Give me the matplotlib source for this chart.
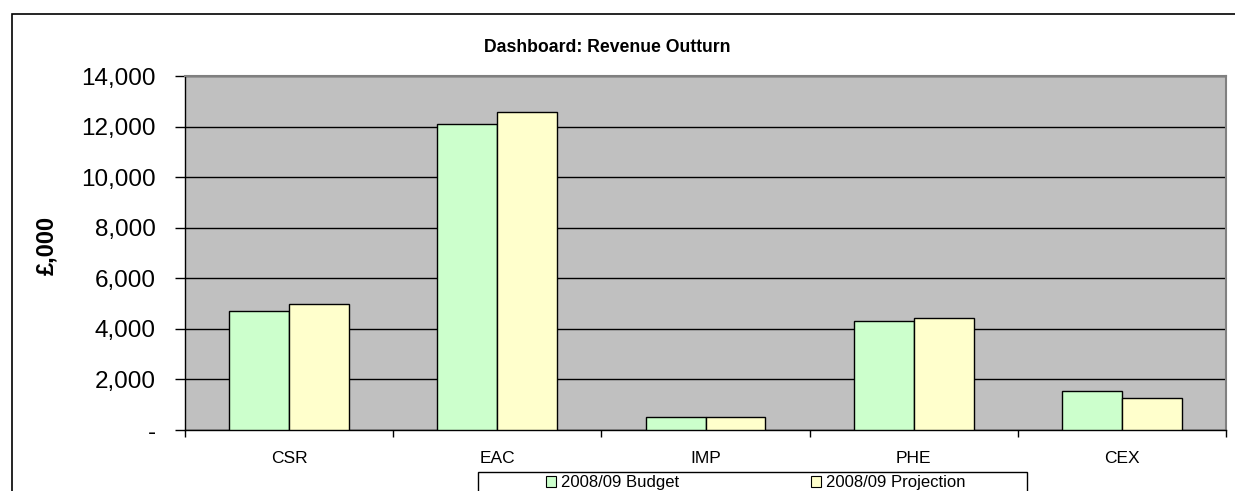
import numpy as np
import matplotlib
matplotlib.use("Agg")
import matplotlib.pyplot as plt
from matplotlib.patches import Patch, Rectangle
from matplotlib.ticker import FuncFormatter

plt.rcParams['font.family'] = ['Liberation Sans', 'DejaVu Sans']

# values (£,000)
categories = ['CSR', 'EAC', 'IMP', 'PHE', 'CEX']
budget = [4720, 12100, 510, 4320, 1540]
projection = [5000, 12560, 500, 4415, 1280]
series_names = ['2008/09 Budget', '2008/09 Projection']
colors = ['#CCFFCC', '#FFFFCC']

W, H = 1235, 491
fig = plt.figure(figsize=(W / 100, H / 100), dpi=100)

# outer chart border (runs off the right and bottom edge like the source)
fig.patches.append(Rectangle((12 / W, -0.2), 1.2, 1 - 14 / H + 0.2,
                             transform=fig.transFigure, fill=False,
                             edgecolor='black', linewidth=1.2))

ax = fig.add_axes([185 / W, 1 - 430 / H, (1226 - 185) / W, (430 - 76) / H])
ax.set_facecolor('#C0C0C0')

x = np.arange(len(categories))
bw = 0.288
ax.bar(x - bw / 2, budget, bw, color=colors[0], edgecolor='black', linewidth=1, zorder=3)
ax.bar(x + bw / 2, projection, bw, color=colors[1], edgecolor='black', linewidth=1, zorder=3)

ax.set_xlim(-0.5, len(categories) - 0.5)
ax.set_ylim(0, 14000)
ax.set_yticks(np.arange(0, 14001, 2000))
ax.yaxis.set_major_formatter(FuncFormatter(lambda v, p: '-' if v == 0 else f'{int(v):,}'))
ax.grid(axis='y', color='black', linewidth=1, zorder=1)
ax.set_axisbelow(True)

# category boundaries get the tick marks, names sit between them
ax.set_xticks(np.arange(-0.5, len(categories), 1))
ax.set_xticklabels([])
ax.set_xticks(x, minor=True)
ax.set_xticklabels(categories, minor=True, fontsize=12.5)
ax.tick_params(axis='x', which='major', direction='out', length=5, width=1, color='black')
ax.tick_params(axis='x', which='minor', length=0, pad=15)
ax.tick_params(axis='y', direction='out', length=7, width=1, labelsize=17.5, pad=14)

for side in ['top', 'right']:
    ax.spines[side].set_color('#808080')
    ax.spines[side].set_linewidth(1.5)
for side in ['left', 'bottom']:
    ax.spines[side].set_color('black')
    ax.spines[side].set_linewidth(1)

ax.set_ylabel('£,000', fontsize=17, fontweight='bold')
ax.yaxis.set_label_coords(-(185 - 58) / (1226 - 185), 0.52)

fig.text(607 / W, 1 - 47 / H, 'Dashboard: Revenue Outturn', ha='center', va='center',
         fontsize=12.7, fontweight='bold')

# legend box, also cut by the bottom edge
fig.patches.append(Rectangle((478 / W, -0.2), (1027 - 478) / W, 1 - 472 / H + 0.2,
                             transform=fig.transFigure, fill=False,
                             edgecolor='black', linewidth=1))
handles = [Patch(facecolor=c, edgecolor='black', linewidth=0.8) for c in colors]
fig.legend(handles, series_names, loc='center', bbox_to_anchor=(756 / W, 1 - 483 / H),
           ncol=2, frameon=False, fontsize=12, handlelength=0.6, handleheight=0.6,
           handletextpad=0.3, columnspacing=7.9, borderpad=0, borderaxespad=0)

fig.savefig('out.png', dpi=100)
